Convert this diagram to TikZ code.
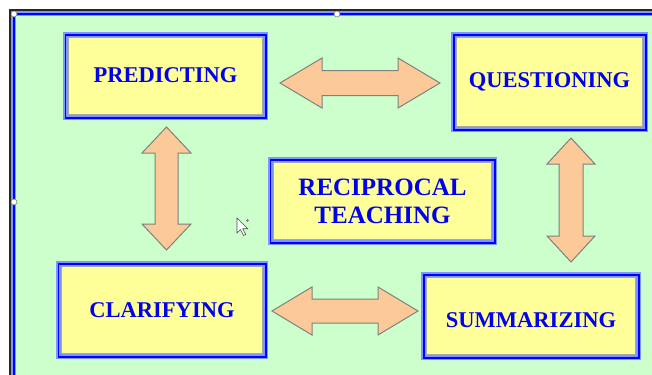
\documentclass[tikz,border=0pt]{standalone}
\usepackage{fontspec}
\setmainfont{Liberation Serif}
\definecolor{bg}{HTML}{CCFFCC}
\definecolor{boxy}{HTML}{FFFF99}
\definecolor{lblue}{HTML}{7A98FF}
\definecolor{bblue}{HTML}{0000FF}
\definecolor{txtblue}{HTML}{0000EE}
\definecolor{peach}{HTML}{FCCA98}
\definecolor{agray}{HTML}{808080}
\definecolor{igray}{HTML}{A8A8A8}
\tikzset{
  tbox/.style={fill=boxy, draw=lblue, line width=1.5pt, double=bblue, double distance=2pt,
    inner sep=0pt, text=txtblue, align=center,
    font=\bfseries\fontsize{22.6}{27}\selectfont,
    path picture={\draw[igray, line width=7.4pt] (path picture bounding box.north west) rectangle (path picture bounding box.south east);}},
  barrow/.style={fill=peach, draw=agray, line width=1pt, line join=miter},
  handle/.style={draw=gray, fill=white, line width=0.6pt},
}
\newcommand\harr[6]{%
  \draw[barrow] (#1,#3) -- ({#1+#6},{#3-#4}) -- ({#1+#6},{#3-#5}) -- ({#2-#6},{#3-#5}) -- ({#2-#6},{#3-#4}) -- (#2,#3) -- ({#2-#6},{#3+#4}) -- ({#2-#6},{#3+#5}) -- ({#1+#6},{#3+#5}) -- ({#1+#6},{#3+#4}) -- cycle;}
\newcommand\varr[6]{%
  \draw[barrow] (#1,#2) -- ({#1+#4},{#2+#6}) -- ({#1+#5},{#2+#6}) -- ({#1+#5},{#3-#6}) -- ({#1+#4},{#3-#6}) -- (#1,#3) -- ({#1-#4},{#3-#6}) -- ({#1-#5},{#3-#6}) -- ({#1-#5},{#2+#6}) -- ({#1-#4},{#2+#6}) -- cycle;}
\begin{document}
\begin{tikzpicture}[x=1bp,y=-1bp]
\useasboundingbox (0,0) rectangle (652,374);
\clip (0,0) rectangle (652,374);
\fill[white] (0,0) rectangle (652,374);
\fill[bg] (16,16) rectangle (670,390);
\draw[black!85, line width=2bp] (10,390) -- (10,10) -- (670,10);
\draw[lblue, line width=1.5bp, double=bblue, double distance=2bp] (13.5,390) -- (13.5,13.5) -- (670,13.5);
\draw[handle] (14,14) circle (3bp);
\draw[handle] (337,14) circle (3bp);
\draw[handle] (14,202) circle (3bp);

\node[tbox, minimum width=200bp, minimum height=83bp, text height=12bp, text depth=0bp] (pred) at (165.5,76) {PREDICTING};
\node[tbox, minimum width=192bp, minimum height=95bp] (ques) at (549.5,82) {QUESTIONING};
\node[tbox, minimum width=224bp, minimum height=83bp, font=\bfseries\fontsize{25.1}{28.1}\selectfont] (recip) at (382.5,201) {RECIPROCAL\\TEACHING};
\node[tbox, minimum width=207bp, minimum height=93bp] (clar) at (162,310) {CLARIFYING};
\node[tbox, minimum width=215bp, minimum height=83bp, text height=22bp, text depth=0bp] (summ) at (531,316) {SUMMARIZING};

\harr{280}{440}{83}{25}{12.5}{42}
\harr{272}{418}{311}{24}{12}{40}
\varr{166.5}{127}{250}{24.5}{11.5}{26}
\varr{571}{138}{262}{24}{12}{26}

\draw[black!70, fill=white, line width=0.6bp] (237,218) -- ++(0,15) -- ++(3.5,-3.5) -- ++(3,6) -- ++(2.2,-1) -- ++(-3,-5.8) -- ++(5,0) -- cycle;
\draw[black!50, line width=0.5bp] (246,220) -- (249,220) (247.5,218.5) -- (247.5,221.5);
\end{tikzpicture}
\end{document}
